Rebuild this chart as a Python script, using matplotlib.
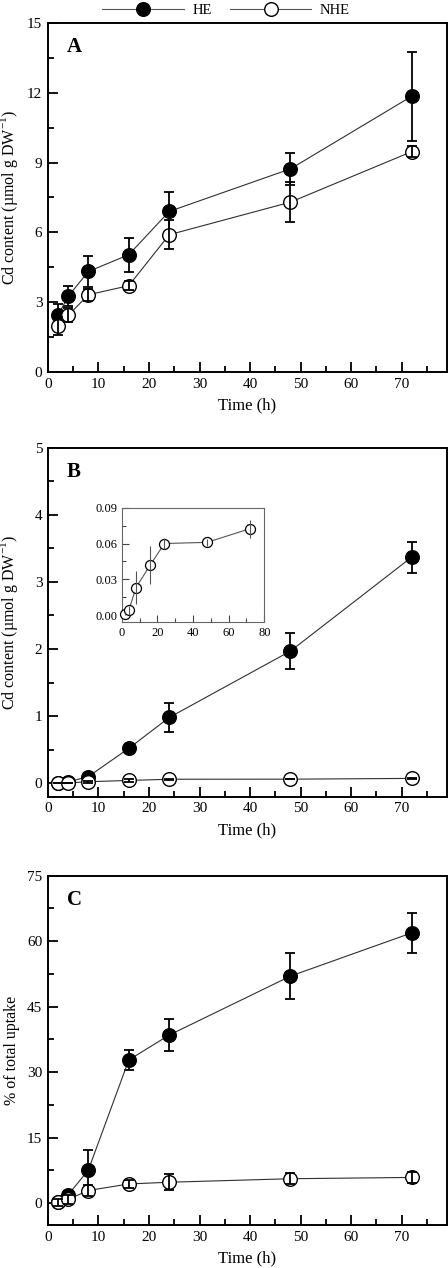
import numpy as np
import matplotlib
matplotlib.use("Agg")
import matplotlib.pyplot as plt
from matplotlib.lines import Line2D
from matplotlib.ticker import MultipleLocator, FormatStrFormatter

plt.rcParams["font.family"] = ["Liberation Serif", "DejaVu Serif"]
plt.rcParams["mathtext.fontset"] = "custom"
plt.rcParams["mathtext.rm"] = "Liberation Serif"

# ── data ─────────────────────────────────────────
time_h = [2, 4, 8, 16, 24, 48, 72]

# A: Cd content
a_he = [2.43, 3.25, 4.32, 5.04, 6.90, 8.73, 11.85]
a_he_err = [0.50, 0.43, 0.65, 0.73, 0.83, 0.70, 1.91]
a_nhe = [1.98, 2.43, 3.32, 3.71, 5.90, 7.30, 9.47]
a_nhe_err = [0.40, 0.30, 0.25, 0.20, 0.63, 0.85, 0.25]

# B: Cd content
b_he = [0.01, 0.02, 0.10, 0.52, 0.98, 1.97, 3.37]
b_he_err = [0.00, 0.00, 0.03, 0.05, 0.21, 0.27, 0.23]
b_nhe = [0.001, 0.004, 0.023, 0.042, 0.060, 0.061, 0.0725]
b_nhe_err = [0.001, 0.004, 0.014, 0.016, 0.005, 0.003, 0.0075]

# C: % of total uptake
c_he = [0.3, 1.9, 7.6, 32.8, 38.5, 52.0, 61.9]
c_he_err = [0.3, 0.8, 4.6, 2.3, 3.7, 5.2, 4.6]
c_nhe = [0.2, 0.9, 2.9, 4.4, 4.8, 5.6, 5.9]
c_nhe_err = [0.8, 1.0, 1.3, 1.0, 1.8, 1.2, 1.2]

LINE_C = "#303030"
MS = 9.8


def draw_series(ax, y_he, e_he, y_nhe, e_nhe):
    ax.plot(time_h, y_he, "-", color=LINE_C, lw=0.8, marker="o", ms=MS,
            mfc="black", mec="black", mew=1.0, zorder=3, clip_on=False)
    ax.errorbar(time_h, y_he, yerr=e_he, fmt="none", ecolor="black",
                elinewidth=1.3, capsize=3.3, capthick=1.3, zorder=2.5)
    ax.plot(time_h, y_nhe, "-", color=LINE_C, lw=0.8, marker="o", ms=MS,
            mfc="white", mec="black", mew=1.0, zorder=4, clip_on=False)
    ax.errorbar(time_h, y_nhe, yerr=e_nhe, fmt="none", ecolor="black",
                elinewidth=1.3, capsize=3.3, capthick=1.3, zorder=5)


def style_axes(ax, ylim, ymajor, ylabel, letter):
    ax.set_xlim(0, 79)
    ax.set_ylim(*ylim)
    ax.xaxis.set_minor_locator(MultipleLocator(5))
    ax.yaxis.set_major_locator(MultipleLocator(ymajor))
    ax.yaxis.set_minor_locator(MultipleLocator(ymajor / 2))
    ax.set_xticks(range(0, 71, 10))
    ax.tick_params(which="both", direction="in", top=False, right=False,
                   labelsize=11, width=1.3)
    ax.tick_params(which="major", length=7, pad=4)
    ax.tick_params(which="minor", length=4)
    for s in ax.spines.values():
        s.set_linewidth(1.4)
    ax.set_xlabel("Time (h)", fontsize=12, labelpad=5)
    ax.set_ylabel(ylabel, fontsize=11.5)
    ax.yaxis.set_label_coords(-0.071, 0.5)
    ax.text(0.047, 0.93, letter, transform=ax.transAxes, fontsize=15,
            fontweight="bold", va="center", ha="left")


fig = plt.figure(figsize=(4.48, 12.68), dpi=100)

cd_label = "Cd content (µmol g DW$^{-1}$)"

axA = fig.add_axes([0.107, 0.7066, 0.891, 0.2753])
draw_series(axA, a_he, a_he_err, a_nhe, a_nhe_err)
style_axes(axA, (0, 15), 3, cd_label, "A")

axB = fig.add_axes([0.107, 0.3717, 0.891, 0.2752])
draw_series(axB, b_he, b_he_err, b_nhe, b_nhe_err)
style_axes(axB, (-0.2, 5), 1, cd_label, "B")

axC = fig.add_axes([0.107, 0.0339, 0.891, 0.2755])
draw_series(axC, c_he, c_he_err, c_nhe, c_nhe_err)
style_axes(axC, (-5, 75), 15, "% of total uptake", "C")

# inset in B: NHE only
axI = fig.add_axes([0.2716, 0.5092, 0.3184, 0.0904])
axI.plot(time_h, b_nhe, "-", color="#555555", lw=0.8, marker="o", ms=7.2,
         mfc="white", mec="black", mew=0.9, zorder=3, clip_on=False)
axI.errorbar(time_h, b_nhe, yerr=b_nhe_err, fmt="none", ecolor="#555555",
             elinewidth=0.8, capsize=0, zorder=4)
axI.set_xlim(0, 80)
axI.set_ylim(-0.006, 0.09)
axI.xaxis.set_major_locator(MultipleLocator(20))
axI.xaxis.set_minor_locator(MultipleLocator(10))
axI.set_yticks([0.0, 0.03, 0.06, 0.09])
axI.yaxis.set_minor_locator(MultipleLocator(0.015))
axI.yaxis.set_major_formatter(FormatStrFormatter("%.2f"))
axI.tick_params(which="both", direction="in", labelsize=9, width=0.8,
                color="#444444", pad=3)
axI.tick_params(which="major", length=5)
axI.tick_params(which="minor", length=3)
for s in axI.spines.values():
    s.set_linewidth(0.8)
    s.set_color("#666666")

# legend at top
handles = [
    Line2D([], [], color="#555555", lw=0.8, marker="o", ms=MS, mfc="black",
           mec="black", label="HE"),
    Line2D([], [], color="#555555", lw=0.8, marker="o", ms=MS, mfc="white",
           mec="black", label="NHE"),
]
fig.legend(handles=handles, loc="center", bbox_to_anchor=(0.505, 0.9915),
           ncol=2, frameon=False, fontsize=10.5, handlelength=5.6,
           columnspacing=1.2, handletextpad=0.6)

fig.savefig("out.png", dpi=100)
